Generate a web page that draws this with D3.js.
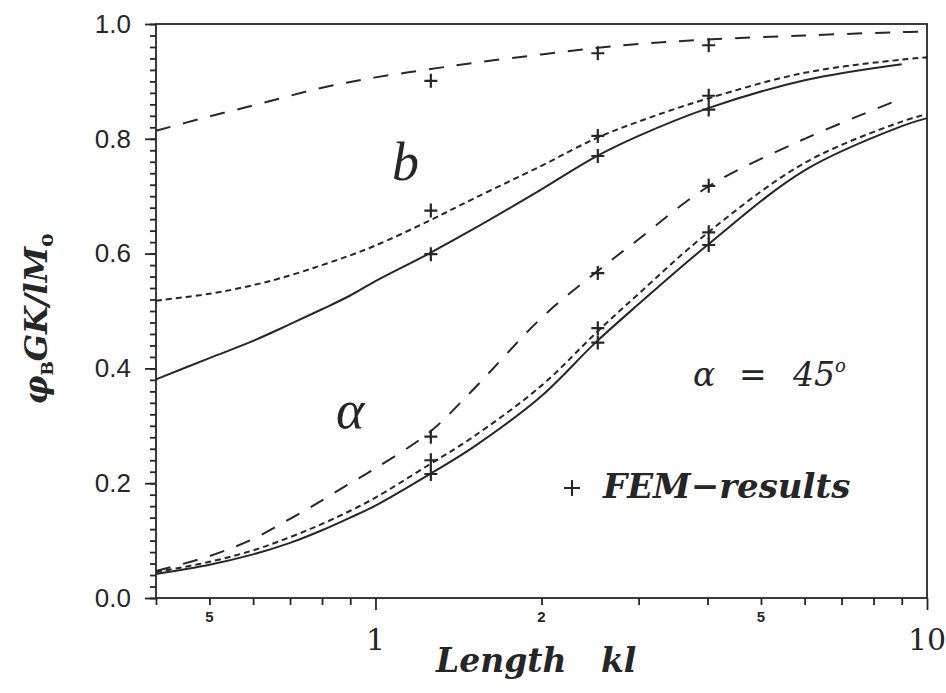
<!DOCTYPE html>
<html>
<head>
<meta charset="utf-8">
<script src="https://cdn.jsdelivr.net/npm/d3@7"></script>
<style>
  html, body { margin: 0; padding: 0; background: #fff; }
  svg { display: block; }
</style>
</head>
<body>
<svg id="chart" width="946" height="693"></svg>
<script>
// curve samples (kl on a log axis)
const klGrid = [0.4, 0.5, 0.6, 0.7, 0.8, 0.9, 1, 1.25, 1.5, 2, 2.5, 3, 4, 6, 9, 10];

const bLong  = [0.814, 0.839, 0.858, 0.875, 0.889, 0.899, 0.907, 0.921, 0.932, 0.947, 0.958, 0.965, 0.973, 0.980, 0.986, 0.987];
const bShort = [0.518, 0.530, 0.545, 0.562, 0.580, 0.597, 0.614, 0.657, 0.695, 0.753, 0.800, 0.830, 0.870, 0.915, 0.938, 0.942];
const bSolid = [0.381, 0.418, 0.448, 0.477, 0.503, 0.527, 0.552, 0.600, 0.642, 0.712, 0.768, 0.805, 0.853, 0.902, 0.930, null];
const aLong  = [0.047, 0.073, 0.103, 0.138, 0.170, 0.200, 0.226, 0.288, 0.362, 0.488, 0.566, 0.625, 0.716, 0.800, 0.870, null];
const aShort = [0.045, 0.063, 0.083, 0.106, 0.129, 0.152, 0.175, 0.232, 0.280, 0.370, 0.460, 0.530, 0.636, 0.758, 0.830, 0.843];
const aSolid = [0.042, 0.058, 0.076, 0.096, 0.118, 0.140, 0.161, 0.215, 0.262, 0.352, 0.444, 0.512, 0.615, 0.745, 0.822, 0.836];

// FEM results (+ markers)
const femKl = [1.26, 2.53, 4.02];
const femBLong  = [0.901, 0.949, 0.963];
const femBShort = [0.675, 0.805, 0.875];
const femBSolid = [0.599, 0.770, 0.851];
const femALong  = [0.281, 0.566, 0.718];
const femAShort = [0.240, 0.470, 0.637];
const femASolid = [0.216, 0.445, 0.615];

const yMajor = [0, 0.2, 0.4, 0.6, 0.8, 1.0];
const xMinor = [0.4, 0.5, 0.6, 0.7, 0.8, 0.9, 2, 3, 4, 5, 6, 7, 8, 9];
const xMajor = [1, 10];
const xSmallLabels = [0.5, 2, 5];

const ink = '#262626';
const svg = d3.select('#chart');

const x = d3.scaleLog().domain([0.4, 10]).range([156, 927]);
const y = d3.scaleLinear().domain([0, 1]).range([598, 24]);

// frame
svg.append('rect')
  .attr('x', x(0.4)).attr('y', y(1))
  .attr('width', x(10) - x(0.4)).attr('height', y(0) - y(1))
  .attr('fill', 'none').attr('stroke', ink).attr('stroke-width', 1.8);

// y axis: minor every 0.02, major every 0.2
const yMinorAxis = svg.append('g')
  .attr('transform', `translate(${x(0.4)},0)`)
  .call(d3.axisLeft(y).tickValues(d3.range(0, 1.0001, 0.02)).tickSize(6).tickFormat(''));
const yMajorAxis = svg.append('g')
  .attr('transform', `translate(${x(0.4)},0)`)
  .call(d3.axisLeft(y).tickValues(yMajor).tickSize(11).tickPadding(14).tickFormat(d3.format('.1f')));
[yMinorAxis, yMajorAxis].forEach((g) => {
  g.select('.domain').remove();
  g.selectAll('line').attr('stroke', ink).attr('stroke-width', 1.8);
});
yMajorAxis.selectAll('text')
  .attr('fill', ink)
  .style('font-family', '"Liberation Sans", Arial, sans-serif')
  .style('font-size', '26px');

// x axis: ticks below the frame
const xMinorAxis = svg.append('g')
  .attr('transform', `translate(0,${y(0)})`)
  .call(d3.axisBottom(x).tickValues(xMinor).tickSize(7).tickFormat(''));
const xMajorAxis = svg.append('g')
  .attr('transform', `translate(0,${y(0)})`)
  .call(d3.axisBottom(x).tickValues(xMajor).tickSize(12).tickFormat(''));
[xMinorAxis, xMajorAxis].forEach((g) => {
  g.select('.domain').remove();
  g.selectAll('line').attr('stroke', ink).attr('stroke-width', 1.8);
});

svg.selectAll('.xsmall')
  .data(xSmallLabels)
  .join('text')
  .attr('x', (d) => x(d))
  .attr('y', 622)
  .attr('text-anchor', 'middle')
  .attr('fill', ink)
  .style('font-family', '"Liberation Sans", Arial, sans-serif')
  .style('font-weight', 'bold')
  .style('font-size', '15px')
  .text((d) => (d < 1 ? Math.round(d * 10) : d));

svg.selectAll('.xbig')
  .data(xMajor)
  .join('text')
  .attr('x', (d) => x(d))
  .attr('y', 650)
  .attr('text-anchor', 'middle')
  .attr('fill', ink)
  .style('font-family', '"DejaVu Serif", serif')
  .style('font-size', '30px')
  .text((d) => d);

// curves
const series = [
  { values: bLong, fem: femBLong, dash: '15,13' },
  { values: bShort, fem: femBShort, dash: '6,4' },
  { values: bSolid, fem: femBSolid, dash: null },
  { values: aLong, fem: femALong, dash: '15,13' },
  { values: aShort, fem: femAShort, dash: '6,4' },
  { values: aSolid, fem: femASolid, dash: null },
];

const line = d3.line()
  .defined((d) => d.v !== null)
  .x((d) => x(d.kl))
  .y((d) => y(d.v))
  .curve(d3.curveCatmullRom.alpha(0.5));

series.forEach((s) => {
  const pts = klGrid.map((kl, i) => ({ kl, v: s.values[i] }));
  svg.append('path')
    .attr('d', line(pts))
    .attr('fill', 'none')
    .attr('stroke', ink)
    .attr('stroke-width', 2)
    .attr('stroke-dasharray', s.dash);

  svg.selectAll(null)
    .data(femKl.map((kl, i) => ({ kl, v: s.fem[i] })))
    .join('path')
    .attr('transform', (d) => `translate(${x(d.kl)},${y(d.v)})`)
    .attr('d', 'M-6.5,0H6.5M0,-7V7')
    .attr('stroke', ink)
    .attr('stroke-width', 2.2);
});

// annotations
const serifItalic = '"Liberation Serif", "Times New Roman", serif';
const schoolbook = '"DejaVu Serif", serif';

svg.append('text')
  .attr('x', 392).attr('y', 180)
  .attr('fill', ink)
  .style('font-family', serifItalic).style('font-style', 'italic')
  .style('font-size', '54px')
  .text('b');

svg.append('text')
  .attr('x', 336).attr('y', 428)
  .attr('fill', ink)
  .style('font-family', serifItalic).style('font-style', 'italic')
  .style('font-size', '54px')
  .text('α');

const alphaText = svg.append('text')
  .attr('y', 386)
  .attr('fill', ink)
  .style('font-family', schoolbook).style('font-style', 'italic')
  .style('font-size', '33px');
alphaText.append('tspan').attr('x', 693).text('α');
alphaText.append('tspan').attr('x', 739).style('font-style', 'normal').text('=');
alphaText.append('tspan').attr('x', 793).text('45');
alphaText.append('tspan').attr('dy', -14).style('font-size', '18px').text('o');

svg.append('path')
  .attr('transform', 'translate(572,488)')
  .attr('d', 'M-8,0H8M0,-8V8')
  .attr('stroke', ink)
  .attr('stroke-width', 2);

svg.append('text')
  .attr('x', 603).attr('y', 498)
  .attr('fill', ink)
  .style('font-family', schoolbook).style('font-style', 'italic').style('font-weight', 'bold')
  .style('font-size', '34px')
  .text('FEM−results');

// axis titles
svg.append('text')
  .attr('x', 436).attr('y', 672)
  .attr('fill', ink)
  .style('font-family', schoolbook).style('font-style', 'italic').style('font-weight', 'bold')
  .style('font-size', '33px')
  .style('white-space', 'pre')
  .text('Length   kl');

const yTitle = svg.append('text')
  .attr('transform', 'translate(47,319) rotate(-90)')
  .attr('text-anchor', 'middle')
  .attr('fill', ink)
  .style('font-family', schoolbook).style('font-style', 'italic').style('font-weight', 'bold')
  .style('font-size', '32px');
yTitle.append('tspan').text('φ');
yTitle.append('tspan').attr('dy', 6).style('font-size', '17px').style('font-style', 'normal').text('B');
yTitle.append('tspan').attr('dy', -6).text('GK/lM');
yTitle.append('tspan').attr('dy', 6).style('font-size', '20px').style('font-style', 'normal').text('o');
</script>
</body>
</html>
